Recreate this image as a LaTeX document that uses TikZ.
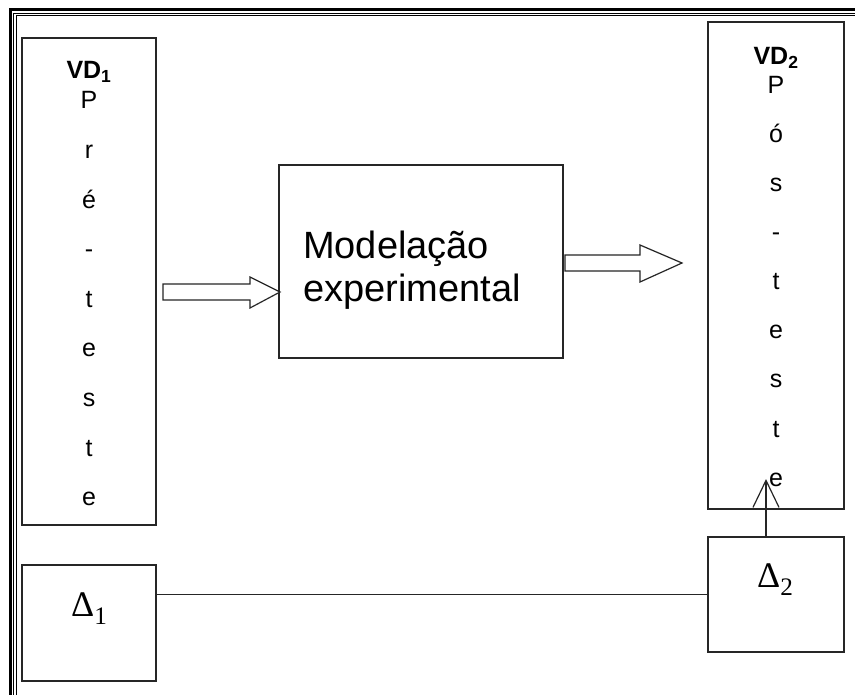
\documentclass[tikz,border=0pt]{standalone}
\usepackage{fontspec}
\setmainfont{Liberation Sans}
\newfontfamily\deltafont{Liberation Serif}
\usetikzlibrary{arrows.meta}

\begin{document}
\begin{tikzpicture}[x=1pt,y=-1pt]
	\tikzstyle{every node}=[inner sep=0pt]
	\tikzstyle{box}=[rectangle,draw=black!85,line width=1.2pt]
	\tikzstyle{letter}=[font=\fontsize{25}{30}\selectfont,anchor=base]
	\tikzstyle{bigtext}=[font=\fontsize{38}{44}\selectfont,anchor=base west]
	\tikzstyle{delta}=[font=\deltafont\fontsize{36}{40}\selectfont,anchor=base west]
	\tikzstyle{hollow}=[draw=black!85,line width=1.2pt,fill=white,line join=miter]
	\clip (0,0) rectangle (855,695);
	\fill[white] (0,0) rectangle (855,695);
	% page frame, cut at right and bottom
	\draw[line width=3pt] (10,10) rectangle (880,720);
	\draw[line width=1pt] (13.5,13.5) rectangle (876,716);
	\draw[line width=1pt] (16,16) rectangle (874,714);

	\node[box,minimum width=134pt,minimum height=487pt] (pre) at (89,281.5) {};
	\node[box,minimum width=136pt,minimum height=487pt] (pos) at (776,265.5) {};
	\node[box,minimum width=284pt,minimum height=193pt] (model) at (421,261.5) {};
	\node[box,minimum width=134pt,minimum height=116pt] (d1) at (89,623) {};
	\node[box,minimum width=136pt,minimum height=115pt] (d2) at (776,594.5) {};

	\node[letter] (vd1) at (89,79) {\textbf{VD\textsubscript{1}}};
	\foreach \ch [count=\i] in {P,r,é,-,t,e,s,t,e}
		\node[letter] (pre\i) at (89,109+49.6*\i-49.6) {\ch};
	\node[letter] (vd2) at (776,65) {\textbf{VD\textsubscript{2}}};
	\foreach \ch [count=\i] in {P,ó,s,-,t,e,s,t,e}
		\node[letter] (pos\i) at (776,94+49*\i-49) {\ch};

	\node[bigtext] (mod1) at (303,259) {Modelação};
	\node[bigtext] (mod2) at (303,302) {experimental};

	\node[delta] (dl1) at (71,616) {Δ\textsubscript{1}};
	\node[delta] (dl2) at (757,587) {Δ\textsubscript{2}};

	% hollow arrows
	\draw[hollow] (163,284) -- (250,284) -- (250,277) -- (280,292) -- (250,308) -- (250,300) -- (163,300) -- cycle;
	\draw[hollow] (565,255) -- (640,255) -- (640,245) -- (682,263) -- (640,282) -- (640,271) -- (565,271) -- cycle;

	\draw[box] (d2.west) -- (d2.west -| d1.east);
	\coordinate (tip) at (766,479);
	\draw[box,-{Straight Barb[length=27pt,width=26pt]}] (tip |- d2.north) -- (tip);
\end{tikzpicture}
\end{document}
